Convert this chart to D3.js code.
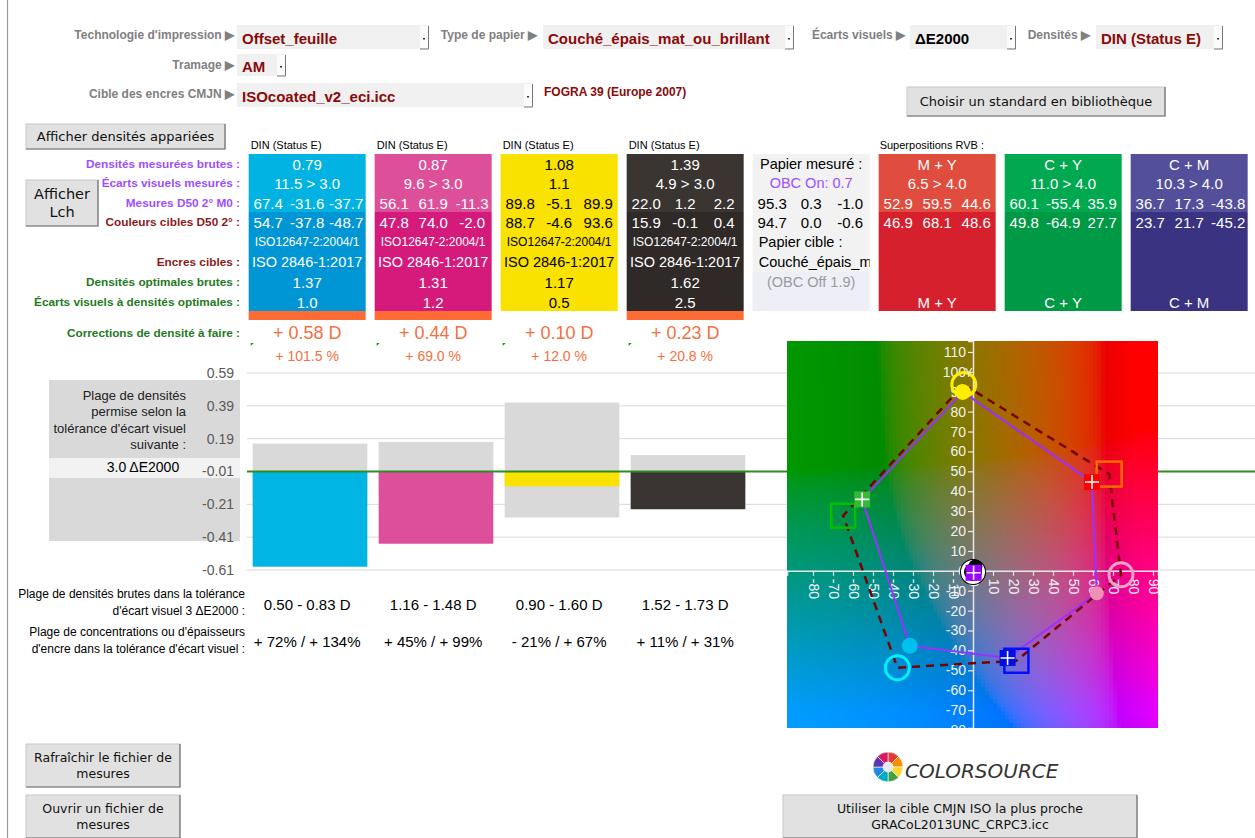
<!DOCTYPE html>
<html>
<head>
<meta charset="utf-8">
<script src="https://cdn.jsdelivr.net/npm/d3@7"></script>
<style>
  body { margin: 0; background: #fff; }
</style>
</head>
<body>
<svg id="chart" width="1255" height="838"></svg>
<script>
// ---- donnees ----
var encres = ["C", "M", "J", "N"];
var densMesurees = [0.79, 0.87, 1.08, 1.39];
var ecartsMesures = [11.5, 9.6, 1.1, 4.9];
var tolerance = 3.0;
var labMesures = [[67.4, -31.6, -37.7], [56.1, 61.9, -11.3], [89.8, -5.1, 89.9], [22.0, 1.2, 2.2]];
var labCibles = [[54.7, -37.8, -48.7], [47.8, 74.0, -2.0], [88.7, -4.6, 93.6], [15.9, -0.1, 0.4]];
var normesPapier = ["ISO12647-2:2004/1", "ISO12647-2:2004/1", "ISO12647-2:2004/1", "ISO12647-2:2004/1"];
var normesEncres = ["ISO 2846-1:2017", "ISO 2846-1:2017", "ISO 2846-1:2017", "ISO 2846-1:2017"];
var densOptimales = [1.37, 1.31, 1.17, 1.62];
var ecartsOptimaux = [1.0, 1.2, 0.5, 2.5];
var corrections = [0.58, 0.44, 0.10, 0.23];
var correctionsPct = [101.5, 69.0, 12.0, 20.8];

var ecartBarres = [-0.58, -0.44, -0.09, -0.23];
var plageBas = [-0.16, -0.14, -0.28, -0.11];
var plageHaut = [0.17, 0.18, 0.42, 0.10];
var yTicks = [-0.61, -0.41, -0.21, -0.01, 0.19, 0.39, 0.59];
var ligneZero = -0.01;

var plagesDensites = ["0.50 - 0.83 D", "1.16 - 1.48 D", "0.90 - 1.60 D", "1.52 - 1.73 D"];
var plagesConc = ["+ 72% / + 134%", "+ 45% / + 99%", "- 21% / + 67%", "+ 11% / + 31%"];

var papierMesure = [95.3, 0.3, -1.0];
var papierCible = [94.7, 0.0, -0.6];

var superpositions = ["M + Y", "C + Y", "C + M"];
var ecartsSup = [6.5, 11.0, 10.3];
var toleranceSup = 4.0;
var labSupMesures = [[52.9, 59.5, 44.6], [60.1, -55.4, 35.9], [36.7, 17.3, -43.8]];
var labSupCibles = [[46.9, 68.1, 48.6], [49.8, -64.9, 27.7], [23.7, 21.7, -45.2]];

var aTicks = [-80, -70, -60, -50, -40, -30, -20, -10, 0, 10, 20, 30, 40, 50, 60, 70, 80, 90];
var bTicks = [-80, -70, -60, -50, -40, -30, -20, -10, 0, 10, 20, 30, 40, 50, 60, 70, 80, 90, 100, 110];

// ---- polices ----
var NARROW = "'Liberation Sans Narrow', 'Arial Narrow', 'Liberation Sans', sans-serif";
var ARIAL = "'Liberation Sans', Arial, sans-serif";
var VERD = "'DejaVu Sans', Verdana, sans-serif";

// tiret simple comme dans Excel
var loc = d3.formatLocale({decimal: ".", thousands: ",", grouping: [3], currency: ["", ""], minus: "-"});
var f1 = loc.format(".1f"), f2 = loc.format(".2f"), fd = loc.format("d");

var svg = d3.select("#chart");
svg.append("rect").attr("width", 1255).attr("height", 838).attr("fill", "#fff");

function txt(g, x, y, s, o) {
    o = o || {};
    return g.append("text")
        .attr("x", x).attr("y", y)
        .attr("text-anchor", o.anchor || "start")
        .attr("dominant-baseline", "central")
        .style("font-family", o.font || NARROW)
        .style("font-size", (o.size || 13) + "px")
        .style("font-weight", o.bold ? "bold" : "normal")
        .style("font-style", o.italic ? "italic" : "normal")
        .style("fill", o.color || "#000")
        .text(s);
}

function bouton(x, y, w, h, lignes, size) {
    var g = svg.append("g");
    g.append("rect").attr("x", x).attr("y", y).attr("width", w).attr("height", h)
        .attr("fill", "#e1e1e1").attr("stroke", "#c8c8c8");
    g.append("path").attr("d", "M" + (x + w) + "," + y + "V" + (y + h) + "H" + x)
        .attr("fill", "none").attr("stroke", "#6e6e6e").attr("stroke-width", 1.2);
    var lh = size * 1.25;
    var y0 = y + h / 2 - (lignes.length - 1) * lh / 2;
    lignes.forEach(function (l, i) {
        txt(g, x + w / 2, y0 + i * lh, l, {anchor: "middle", font: VERD, size: size, color: "#111"});
    });
}

function liste(x, y, w, h, s, couleur) {
    var g = svg.append("g");
    g.append("rect").attr("x", x).attr("y", y).attr("width", w).attr("height", h).attr("fill", "#f0f0f0");
    g.append("rect").attr("x", x + w - 9).attr("y", y + 1).attr("width", 8).attr("height", h - 2).attr("fill", "#fbfbfb");
    g.append("path").attr("d", "M" + (x + w - 0.5) + "," + (y + 1) + "V" + (y + h) + "H" + (x + w - 9))
        .attr("fill", "none").attr("stroke", "#777").attr("stroke-width", 1);
    g.append("rect").attr("x", x + w - 6).attr("y", y + h / 2 + 1).attr("width", 2).attr("height", 1.5).attr("fill", "#333");
    txt(g, x + 5, y + h / 2 + 1, s, {font: ARIAL, size: 15, bold: true, color: couleur});
}

// bordure gauche
svg.append("line").attr("x1", 7.5).attr("x2", 7.5).attr("y1", 0).attr("y2", 838)
    .attr("stroke", "#9a9a9a").attr("stroke-width", 1.2);

// ---- en-tete ----
var ROUGE = "#8b0a0a", GRIS = "#808080";
var hdr = svg.append("g");
txt(hdr, 234, 35, "Technologie d'impression \u25B6", {anchor: "end", size: 12, bold: true, color: GRIS});
txt(hdr, 537, 35, "Type de papier \u25B6", {anchor: "end", size: 12, bold: true, color: GRIS});
txt(hdr, 905, 35, "\u00C9carts visuels \u25B6", {anchor: "end", size: 12, bold: true, color: GRIS});
txt(hdr, 1090, 35, "Densit\u00E9s \u25B6", {anchor: "end", size: 12, bold: true, color: GRIS});
txt(hdr, 234, 65, "Tramage \u25B6", {anchor: "end", size: 12, bold: true, color: GRIS});
txt(hdr, 234, 94, "Cible des encres CMJN \u25B6", {anchor: "end", size: 12, bold: true, color: GRIS});
liste(237, 25, 192, 24, "Offset_feuille", ROUGE);
liste(543, 25, 251, 24, "Couch\u00E9_\u00E9pais_mat_ou_brillant", ROUGE);
liste(910, 25, 106, 24, "\u0394E2000", "#000");
liste(1096, 25, 127, 24, "DIN (Status E)", ROUGE);
liste(237, 54, 49, 22, "AM", ROUGE);
liste(237, 83, 296, 24, "ISOcoated_v2_eci.icc", ROUGE);
txt(hdr, 544, 92, "FOGRA 39 (Europe 2007)", {size: 12, bold: true, color: ROUGE});

bouton(907, 87, 258, 29, ["Choisir un standard en biblioth\u00E8que"], 13);
bouton(26, 124, 199, 25, ["Afficher densit\u00E9s appari\u00E9es"], 13);
bouton(26, 180, 72, 46, ["Afficher", "Lch"], 14.5);

// ---- tableau ----
var xBand = d3.scaleBand().domain(d3.range(8)).range([247, 1255]).paddingInner(0.09).paddingOuter(0.045);
var colW = 117;
function colX(i) { return xBand(i) - 4; }
function colC(i) { return colX(i) + colW / 2; }
function tiers(i, k) { return colX(i) + colW * (k + 0.5) / 3; }
var rowY = [164, 183, 203, 222, 242, 262, 282, 302];
var colHaut = ["#00b3e3", "#de4f9a", "#f9e100", "#3b3532", "#f2f2f2", "#e04c3d", "#00a84f", "#534f9b"];
var colBas = ["#0095d5", "#d41a7b", "#f9e100", "#2f2a28", "#f2f2f2", "#d7202d", "#009945", "#393381"];
var colTexte = ["#fff", "#fff", "#000", "#fff", "#000", "#fff", "#fff", "#fff"];

var tab = svg.append("g");
d3.range(8).forEach(function (i) {
    tab.append("rect").attr("x", colX(i)).attr("y", 154).attr("width", colW).attr("height", 58).attr("fill", colHaut[i]);
    tab.append("rect").attr("x", colX(i)).attr("y", 212).attr("width", colW).attr("height", 99).attr("fill", colBas[i]);
});
tab.append("rect").attr("x", colX(4)).attr("y", 272).attr("width", colW).attr("height", 39).attr("fill", "#eeeef7");

var VIOLET = "#9d4dff", BRUN = "#8b1a1a", VERT = "#237a1e";
var etiquettes = [
    ["Densit\u00E9s mesur\u00E9es brutes :", VIOLET, 0],
    ["\u00C9carts visuels mesur\u00E9s :", VIOLET, 1],
    ["Mesures D50 2\u00B0 M0 :", VIOLET, 2],
    ["Couleurs cibles D50 2\u00B0 :", BRUN, 3],
    ["Encres cibles :", BRUN, 5],
    ["Densit\u00E9s optimales brutes :", VERT, 6],
    ["\u00C9carts visuels \u00E0 densit\u00E9s optimales :", VERT, 7]
];
etiquettes.forEach(function (e) {
    txt(tab, 240, rowY[e[2]], e[0], {anchor: "end", size: 11.8, bold: true, color: e[1]});
});

encres.forEach(function (c, i) {
    var col = colTexte[i];
    txt(tab, colX(i) + 2, 145, "DIN (Status E)", {size: 11});
    txt(tab, colC(i), rowY[0], f2(densMesurees[i]), {anchor: "middle", size: 15, color: col});
    var ec = ecartsMesures[i] > tolerance ? f1(ecartsMesures[i]) + " > " + f1(tolerance) : f1(ecartsMesures[i]);
    txt(tab, colC(i), rowY[1], ec, {anchor: "middle", size: 15, color: col});
    [0, 1, 2].forEach(function (k) {
        txt(tab, tiers(i, k), rowY[2], f1(labMesures[i][k]), {anchor: "middle", size: 15, color: col});
        txt(tab, tiers(i, k), rowY[3], f1(labCibles[i][k]), {anchor: "middle", size: 15, color: col});
    });
    txt(tab, colC(i), rowY[4], normesPapier[i], {anchor: "middle", size: 12, color: col});
    txt(tab, colC(i), rowY[5], normesEncres[i], {anchor: "middle", size: 14.5, color: col});
    txt(tab, colC(i), rowY[6], f2(densOptimales[i]), {anchor: "middle", size: 15, color: col});
    txt(tab, colC(i), rowY[7], f1(ecartsOptimaux[i]), {anchor: "middle", size: 15, color: col});
    if (ecartsMesures[i] > tolerance) {
        tab.append("rect").attr("x", colX(i)).attr("y", 311).attr("width", colW).attr("height", 9).attr("fill", "#ff6b35");
    }
});

// papier
txt(tab, colC(4), rowY[0], "Papier mesur\u00E9 :", {anchor: "middle", size: 14.5});
txt(tab, colC(4), rowY[1], "OBC On: 0.7", {anchor: "middle", size: 14.5, color: VIOLET});
[0, 1, 2].forEach(function (k) {
    txt(tab, tiers(4, k), rowY[2], f1(papierMesure[k]), {anchor: "middle", size: 15});
    txt(tab, tiers(4, k), rowY[3], f1(papierCible[k]), {anchor: "middle", size: 15});
});
txt(tab, colX(4) + 6, rowY[4], "Papier cible :", {size: 14.5});
tab.append("clipPath").attr("id", "clipPapier").append("rect")
    .attr("x", colX(4)).attr("y", 250).attr("width", colW).attr("height", 22);
txt(tab, colX(4) + 6, rowY[5], "Couch\u00E9_\u00E9pais_mat_ou_brillant", {size: 14.5}).attr("clip-path", "url(#clipPapier)");
txt(tab, colC(4), rowY[6], "(OBC Off 1.9)", {anchor: "middle", size: 14.5, color: "#9a9a9a"});

// superpositions
txt(tab, colX(5) + 1, 145, "Superpositions RVB :", {size: 11});
superpositions.forEach(function (s, j) {
    var i = j + 5;
    txt(tab, colC(i), rowY[0], s, {anchor: "middle", size: 15, color: "#fff"});
    var ec = ecartsSup[j] > toleranceSup ? f1(ecartsSup[j]) + " > " + f1(toleranceSup) : f1(ecartsSup[j]);
    txt(tab, colC(i), rowY[1], ec, {anchor: "middle", size: 15, color: "#fff"});
    [0, 1, 2].forEach(function (k) {
        txt(tab, tiers(i, k), rowY[2], f1(labSupMesures[j][k]), {anchor: "middle", size: 15, color: "#fff"});
        txt(tab, tiers(i, k), rowY[3], f1(labSupCibles[j][k]), {anchor: "middle", size: 15, color: "#fff"});
    });
    txt(tab, colC(i), rowY[7], s, {anchor: "middle", size: 15, color: "#fff"});
});

// corrections
txt(tab, 240, 333, "Corrections de densit\u00E9 \u00E0 faire :", {anchor: "end", size: 11.8, bold: true, color: VERT});
encres.forEach(function (c, i) {
    txt(tab, colC(i), 333, "+ " + f2(corrections[i]) + " D", {anchor: "middle", size: 18, color: "#f4703f"});
    txt(tab, colC(i), 356, "+ " + f1(correctionsPct[i]) + " %", {anchor: "middle", size: 14, color: "#f4703f"});
    tab.append("path").attr("d", "M" + (colX(i) + 2) + "," + 343 + "h3l-3,3z").attr("fill", "#1f8a1f");
});

// ---- graphique des densites ----
var yBar = d3.scaleLinear().domain([-0.61, 0.59]).range([570, 373]);
var bar = svg.append("g");

// boite grise a gauche
bar.append("rect").attr("x", 49).attr("y", 380).attr("width", 191).attr("height", 161).attr("fill", "#d9d9d9");
bar.append("rect").attr("x", 49).attr("y", 458).attr("width", 191).attr("height", 20).attr("fill", "#f2f2f2");
["Plage de densit\u00E9s", "permise selon la", "tol\u00E9rance d'\u00E9cart visuel", "suivante :"].forEach(function (l, k) {
    txt(bar, 186, 395 + k * 16.5, l, {anchor: "end", size: 13, color: "#222"});
});
txt(bar, 143, 467, f1(tolerance) + " \u0394E2000", {anchor: "middle", size: 14});

bar.selectAll(".grille").data(yTicks).enter().append("line")
    .attr("x1", 247).attr("x2", 1255)
    .attr("y1", function (d) { return yBar(d); }).attr("y2", function (d) { return yBar(d); })
    .attr("stroke", "#d9d9d9").attr("stroke-width", 1);

var axeY = bar.append("g").attr("transform", "translate(240,0)")
    .call(d3.axisLeft(yBar).tickValues(yTicks).tickFormat(f2).tickSize(0).tickPadding(6));
axeY.select(".domain").remove();
axeY.selectAll("text").style("font-family", NARROW).style("font-size", "14px").style("fill", "#595959");

var couleursBarres = ["#00b4e4", "#dd4f9a", "#f9e100", "#3a3533"];
bar.selectAll(".plage").data(encres).enter().append("rect")
    .attr("x", function (d, i) { return xBand(i); })
    .attr("width", xBand.bandwidth())
    .attr("y", function (d, i) { return yBar(ligneZero + plageHaut[i]); })
    .attr("height", function (d, i) { return yBar(ligneZero + plageBas[i]) - yBar(ligneZero + plageHaut[i]); })
    .attr("fill", "#d9d9d9");
bar.selectAll(".ecart").data(encres).enter().append("rect")
    .attr("x", function (d, i) { return xBand(i); })
    .attr("width", xBand.bandwidth())
    .attr("y", function (d, i) { return yBar(Math.max(ligneZero, ligneZero + ecartBarres[i])); })
    .attr("height", function (d, i) { return Math.abs(yBar(ligneZero + ecartBarres[i]) - yBar(ligneZero)); })
    .attr("fill", function (d, i) { return couleursBarres[i]; });
bar.append("line").attr("x1", 247).attr("x2", 1255).attr("y1", yBar(ligneZero)).attr("y2", yBar(ligneZero))
    .attr("stroke", "#2e8b22").attr("stroke-width", 2);

// ---- plages sous le graphique ----
var bas = svg.append("g");
txt(bas, 245, 594, "Plage de densit\u00E9s brutes dans la tol\u00E9rance", {anchor: "end", size: 12});
txt(bas, 245, 611, "d'\u00E9cart visuel " + tolerance + " \u0394E2000 :", {anchor: "end", size: 12});
txt(bas, 245, 632, "Plage de concentrations ou d'\u00E9paisseurs", {anchor: "end", size: 12});
txt(bas, 245, 649, "d'encre dans la tol\u00E9rance d'\u00E9cart visuel :", {anchor: "end", size: 12});
encres.forEach(function (c, i) {
    txt(bas, colC(i), 604, plagesDensites[i], {anchor: "middle", size: 15});
    txt(bas, colC(i), 641, plagesConc[i], {anchor: "middle", size: 15});
});

bouton(26, 744, 154, 43, ["Rafra\u00EEchir le fichier de", "mesures"], 12.5);
bouton(26, 795, 154, 43, ["Ouvrir un fichier de", "mesures"], 12.5);

// ---- plan a*b* ----
var xAB = d3.scaleLinear().domain([-93, 92.5]).range([787, 1158]);
var yAB = d3.scaleLinear().domain([115.5, -79]).range([341, 728]);
var ab = svg.append("g");
ab.append("clipPath").attr("id", "clipAB").append("rect")
    .attr("x", xAB(-93)).attr("y", yAB(115.5)).attr("width", xAB(92.5) - xAB(-93)).attr("height", yAB(-79) - yAB(115.5));
var abIn = ab.append("g").attr("clip-path", "url(#clipAB)");

// fond : plan a*b* a luminance constante
var pas = 2;
var cellules = [];
for (var a = -94; a < 94; a += pas) {
    for (var b = -80; b < 117; b += pas) cellules.push([a, b]);
}
abIn.selectAll(".cell").data(cellules).enter().append("rect")
    .attr("x", function (d) { return xAB(d[0]); })
    .attr("y", function (d) { return yAB(d[1] + pas); })
    .attr("width", xAB(pas) - xAB(0) + 0.6)
    .attr("height", yAB(0) - yAB(pas) + 0.6)
    .attr("shape-rendering", "crispEdges")
    .attr("fill", function (d) { return d3.lab(50, 1.15 * (d[0] + pas / 2), 1.05 * (d[1] + pas / 2) - 4) + ""; });

var axeA = abIn.append("g").attr("transform", "translate(0," + yAB(0) + ")")
    .call(d3.axisBottom(xAB).tickValues(aTicks).tickSize(5).tickFormat(fd));
axeA.selectAll("text").attr("transform", "rotate(90)").attr("x", 8).attr("y", 0).attr("dy", "0.35em")
    .style("text-anchor", "start");
var axeB = abIn.append("g").attr("transform", "translate(" + xAB(0) + ",0)")
    .call(d3.axisLeft(yAB).tickValues(bTicks).tickSize(5).tickPadding(2).tickFormat(fd));
[axeA, axeB].forEach(function (ax) {
    ax.select(".domain").attr("stroke", "#e8e8e8").attr("stroke-width", 1.5);
    ax.selectAll(".tick line").attr("stroke", "#e8e8e8").attr("stroke-width", 1.2);
    ax.selectAll("text").style("font-family", NARROW).style("font-size", "14px").style("fill", "#f2f2f2");
});

// polygones : Y, M+Y, M, C+M, C, C+Y
function gamut(lab, sup) {
    return [lab[2], sup[0], lab[1], sup[2], lab[0], sup[1], lab[2]].map(function (v) { return [xAB(v[1]), yAB(v[2])]; });
}
var ligne = d3.line();
abIn.append("path").attr("d", ligne(gamut(labMesures, labSupMesures)))
    .attr("fill", "none").attr("stroke", "#9b30ff").attr("stroke-width", 2);
abIn.append("path").attr("d", ligne(gamut(labCibles, labSupCibles)))
    .attr("fill", "none").attr("stroke", "#7a0000").attr("stroke-width", 2.5).attr("stroke-dasharray", "8,6");

function croix(g, p, s) {
    g.append("path").attr("d", "M" + (p[0] - s) + "," + p[1] + "H" + (p[0] + s) + "M" + p[0] + "," + (p[1] - s) + "V" + (p[1] + s))
        .attr("stroke", "#fff").attr("stroke-width", 1.6);
}
function pt(v) { return [xAB(v[1]), yAB(v[2])]; }
function cercleOuvert(v, c, r) {
    var p = pt(v);
    abIn.append("circle").attr("cx", p[0]).attr("cy", p[1]).attr("r", r).attr("fill", "none").attr("stroke", c).attr("stroke-width", 3);
}
function carreOuvert(v, c, s) {
    var p = pt(v);
    abIn.append("rect").attr("x", p[0] - s / 2).attr("y", p[1] - s / 2).attr("width", s).attr("height", s)
        .attr("fill", "none").attr("stroke", c).attr("stroke-width", 2.5);
}
function cercle(v, c, r) {
    var p = pt(v);
    abIn.append("circle").attr("cx", p[0]).attr("cy", p[1]).attr("r", r).attr("fill", c);
}
function carre(v, c, s) {
    var p = pt(v);
    abIn.append("rect").attr("x", p[0] - s / 2).attr("y", p[1] - s / 2).attr("width", s).attr("height", s).attr("fill", c);
    croix(abIn, p, s / 2 - 1);
}

// papier et noir
var pc = pt(papierCible);
abIn.append("circle").attr("cx", pc[0]).attr("cy", pc[1]).attr("r", 13).attr("fill", "#000");
abIn.append("circle").attr("cx", pc[0]).attr("cy", pc[1]).attr("r", 10.5).attr("fill", "none").attr("stroke", "#fff").attr("stroke-width", 3);
cercle(labMesures[3], "#000", 7);
carre(papierMesure, "#9900ff", 16);

// cibles (ouverts)
cercleOuvert(labCibles[2], "#ffee00", 12);
carreOuvert(labSupCibles[0], "#ff6a00", 25);
cercleOuvert(labCibles[1], "#f0a0c8", 12);
carreOuvert(labSupCibles[2], "#0010ff", 24);
cercleOuvert(labCibles[0], "#00f0ff", 12);
carreOuvert(labSupCibles[1], "#00c000", 24);

// mesures (pleins)
cercle(labMesures[2], "#ffee00", 8);
carre(labSupMesures[0], "#ff0000", 16);
cercle(labMesures[1], "#f090b8", 7);
carre(labSupMesures[2], "#0010e0", 16);
cercle(labMesures[0], "#00c0f0", 8);
carre(labSupMesures[1], "#33bb33", 16);

var py = pt(labCibles[2]);
txt(abIn, py[0] + 1, py[1] - 12, "Y", {size: 12, color: "#f2f2f2"});

// ---- logo ----
var logo = svg.append("g").attr("transform", "translate(888,767)");
var couleursLogo = ["#e53935", "#fb8c00", "#fdd835", "#43a047", "#00acc1", "#1e88e5", "#5e35b1", "#d81b60"];
var pie = d3.pie().value(1).sort(null)(couleursLogo);
logo.selectAll("path").data(pie).enter().append("path")
    .attr("d", d3.arc().innerRadius(5).outerRadius(15))
    .attr("fill", function (d) { return d.data; })
    .attr("stroke", "#fff").attr("stroke-width", 0.6);
logo.append("circle").attr("r", 5).attr("fill", "#e8e8e8");
txt(svg, 905, 771, "COLORSOURCE", {font: VERD, size: 20, italic: true, color: "#333"});

bouton(783, 795, 354, 43, ["Utiliser la cible CMJN ISO la plus proche", "GRACoL2013UNC_CRPC3.icc"], 12.5);
</script>
</body>
</html>
